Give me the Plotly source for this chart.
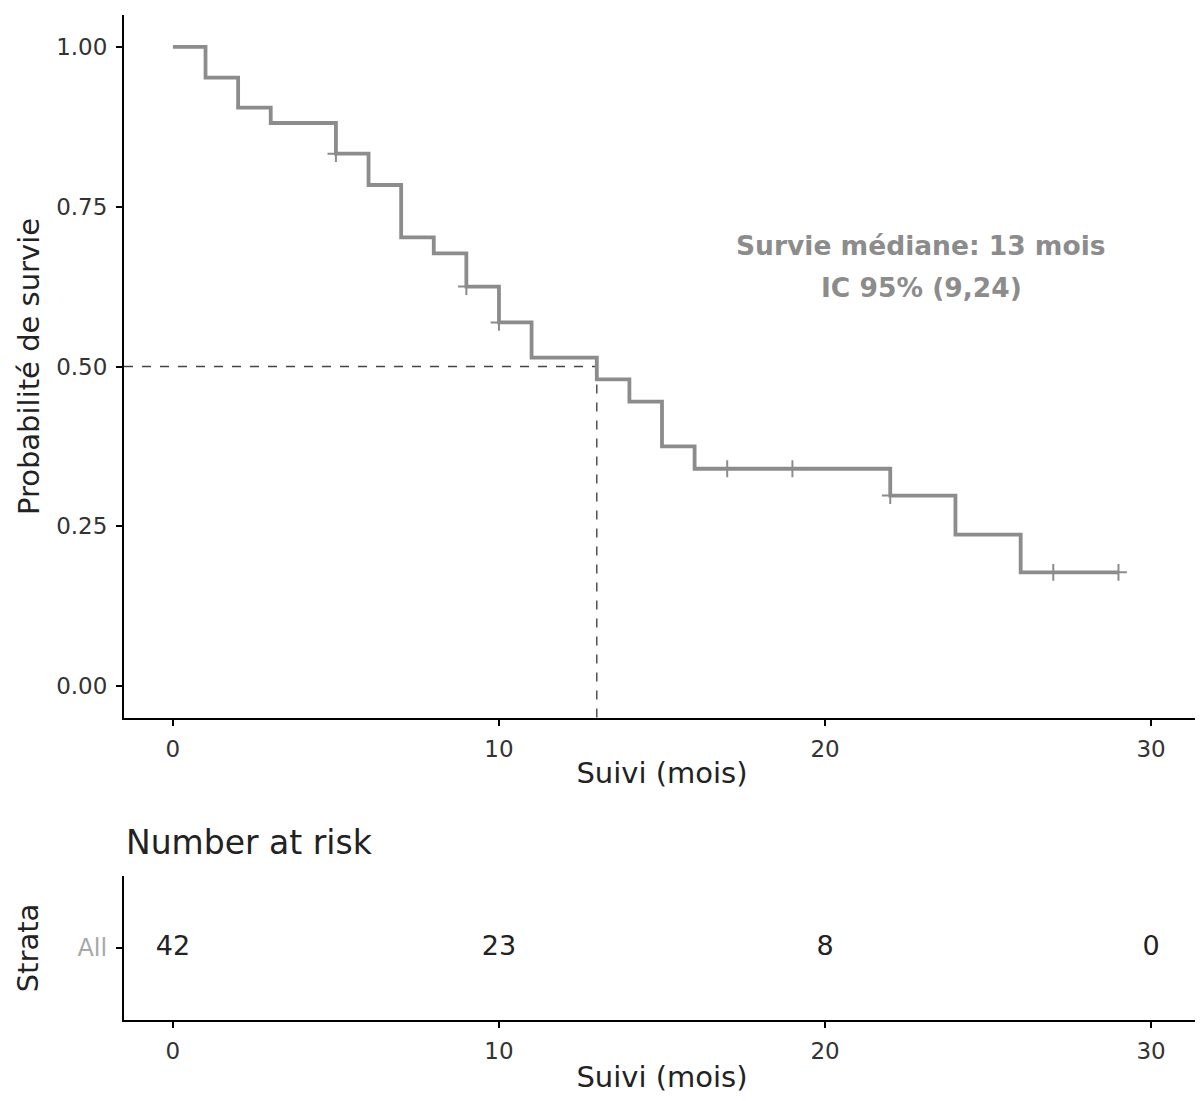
import plotly.graph_objects as go
import numpy as np

# ---- data ----
event_times = [0, 1, 2, 3, 5, 6, 7, 8, 9, 10, 11, 13, 14, 15, 16, 22, 24, 26, 29]
survival = [1.0, 0.952, 0.905, 0.881, 0.833, 0.784, 0.702, 0.677, 0.625, 0.569,
            0.514, 0.480, 0.445, 0.375, 0.340, 0.298, 0.237, 0.178, 0.178]
censor_times = [5, 9, 10, 17, 19, 22, 27, 29]
risk_times = [0, 10, 20, 30]
risk_counts = [42, 23, 8, 0]
median_time = 13
median_surv = 0.5
x_ticks = [0, 10, 20, 30]
y_ticks = [0.0, 0.25, 0.5, 0.75, 1.0]
y_ticklabels = ["0.00", "0.25", "0.50", "0.75", "1.00"]

FONT = "DejaVu Sans, Liberation Sans, sans-serif"
GREY = "#8c8c8c"
TXT = "#222222"


def surv_at(t):
    idx = np.searchsorted(event_times, t, side="right") - 1
    return survival[idx]


censor_y = [surv_at(t) for t in censor_times]

fig = go.Figure()

# median dashed lines
fig.add_trace(go.Scatter(x=[-1.5, median_time], y=[median_surv, median_surv], mode="lines",
                         line=dict(color="#444444", width=1.4, dash="dash"),
                         hoverinfo="skip", showlegend=False, xaxis="x", yaxis="y"))
fig.add_trace(go.Scatter(x=[median_time, median_time], y=[median_surv, -0.05], mode="lines",
                         line=dict(color="#444444", width=1.4, dash="dash"),
                         hoverinfo="skip", showlegend=False, xaxis="x", yaxis="y"))

# KM step curve
fig.add_trace(go.Scatter(x=event_times, y=survival, mode="lines",
                         line=dict(color=GREY, width=3.8, shape="hv"),
                         showlegend=False, xaxis="x", yaxis="y"))
# censor marks
fig.add_trace(go.Scatter(x=censor_times, y=censor_y, mode="markers",
                         marker=dict(symbol="cross-thin", size=12,
                                     line=dict(color=GREY, width=2)),
                         showlegend=False, xaxis="x", yaxis="y"))

# risk table
fig.add_trace(go.Scatter(x=risk_times, y=["All"] * len(risk_times), mode="text",
                         text=[str(v) for v in risk_counts],
                         textfont=dict(family=FONT, size=27, color=TXT),
                         showlegend=False, xaxis="x2", yaxis="y2"))

axis_common = dict(showline=True, linecolor="black", linewidth=2, ticks="outside",
                   ticklen=6, tickwidth=1.5, tickcolor="black", showgrid=False,
                   zeroline=False, mirror=False, automargin=False)

# the page body adds an 8px offset, so the figure is sized 8px smaller
W, H = 1195, 1093
M_L, M_R, M_T, M_B = 116, 3, 7, 81

fig.update_layout(
    width=W, height=H,
    margin=dict(l=M_L, r=M_R, t=M_T, b=M_B),
    plot_bgcolor="white", paper_bgcolor="white",
    font=dict(family=FONT, size=23, color="#333333"),
    xaxis=dict(domain=[0, 1], range=[-1.5, 31.5], tickvals=x_ticks,
               title=dict(text="Suivi (mois)", font=dict(size=29, color=TXT), standoff=2),
               anchor="y", tickfont=dict(size=23, color="#333333"), ticklabelstandoff=3,
               **axis_common),
    yaxis=dict(domain=[0.3005, 1.0], range=[-0.05, 1.05], tickvals=y_ticks,
               ticktext=y_ticklabels,
               title=dict(text="Probabilité de survie", font=dict(size=29, color=TXT), standoff=8),
               anchor="x", tickfont=dict(size=23, color="#333333"), ticklabelstandoff=4,
               **axis_common),
    xaxis2=dict(domain=[0, 1], range=[-1.5, 31.5], tickvals=x_ticks,
                title=dict(text="Suivi (mois)", font=dict(size=29, color=TXT), standoff=4),
                anchor="y2", tickfont=dict(size=23, color="#333333"), ticklabelstandoff=3,
                **axis_common),
    yaxis2=dict(domain=[0, 0.1433], type="category", categoryarray=["All"],
                title=dict(text="Strata", font=dict(size=29, color=TXT), standoff=30),
                anchor="x2", tickfont=dict(size=24, color="#a8a8a8"), ticklabelstandoff=4,
                **axis_common),
    annotations=[
        dict(x=22.95, y=0.690, xref="x", yref="y",
             text="<b>Survie médiane: 13 mois</b>", showarrow=False,
             font=dict(family=FONT, size=26.5, color=GREY)),
        dict(x=22.95, y=0.624, xref="x", yref="y",
             text="<b>IC 95% (9,24)</b>", showarrow=False,
             font=dict(family=FONT, size=26.5, color=GREY)),
    ],
)

plot_h = H - M_T - M_B
fig.add_annotation(x=0.0, y=(1012 - 834) / plot_h, xref="paper", yref="paper",
                   text="Number at risk", showarrow=False, xanchor="left", yanchor="middle",
                   font=dict(family=FONT, size=33, color=TXT))

fig.write_html("out.html")
